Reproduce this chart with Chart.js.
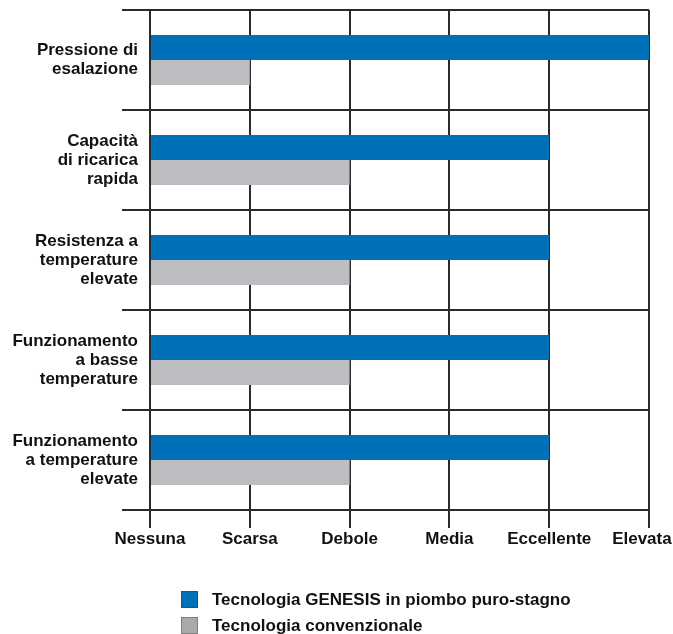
<!DOCTYPE html>
<html>
<head>
<meta charset="utf-8">
<script src="https://cdn.jsdelivr.net/npm/chart.js@4"></script>
<style>
  html, body { margin: 0; padding: 0; background: #fff; overflow: hidden; }
  #wrap { position: relative; width: 673px; height: 634px; }
  .legend-item {
    position: absolute; left: 181px; height: 17px;
    font: bold 17px "Liberation Sans", Arial, sans-serif; color: #111;
    line-height: 17px; white-space: nowrap;
  }
  .legend-item span {
    display: inline-block; width: 15px; height: 15px; vertical-align: top;
    margin-right: 14px;
  }
</style>
</head>
<body>
<div id="wrap">
  <canvas id="myChart" width="673" height="634"></canvas>
  <div class="legend-item" style="top:591px"><span style="background:#0070b9;border:1px solid #005e9c"></span>Tecnologia GENESIS in piombo puro-stagno</div>
  <div class="legend-item" style="top:617px"><span style="background:#a9aaad;border:1px solid #7d7e80"></span>Tecnologia convenzionale</div>
</div>
<script>
const categories = [
    ['Pressione di', 'esalazione'],
    ['Capacità', 'di ricarica', 'rapida'],
    ['Resistenza a', 'temperature', 'elevate'],
    ['Funzionamento', 'a basse', 'temperature'],
    ['Funzionamento', 'a temperature', 'elevate']
]
const levels = ['Nessuna', 'Scarsa', 'Debole', 'Media', 'Eccellente', 'Elevata']
const genesis = [5, 4, 4, 4, 4]
const conventional = [1, 2, 2, 2, 2]

const font = { family: '"Liberation Sans", Arial, sans-serif', size: 17, weight: 'bold' }
const lineColor = '#2b2b2b'

let myChart = document.getElementById('myChart').getContext('2d')
let ratingChart = new Chart(myChart, {
    type: 'bar',
    data: {
        labels: categories,
        datasets: [{
            label: 'Tecnologia GENESIS in piombo puro-stagno',
            data: genesis,
            backgroundColor: '#0070b9',
            categoryPercentage: 0.5,
            barPercentage: 1.0
        }, {
            label: 'Tecnologia convenzionale',
            data: conventional,
            backgroundColor: '#bcbdc0',
            categoryPercentage: 0.5,
            barPercentage: 1.0
        }]
    },
    options: {
        indexAxis: 'y',
        responsive: false,
        animation: false,
        layout: { padding: { top: 10, right: 24, bottom: 84, left: 0 } },
        plugins: {
            legend: { display: false },
            tooltip: { enabled: false }
        },
        scales: {
            x: {
                min: 0,
                max: 5,
                z: 1,
                afterFit: (scale) => {
                    // keep the plot wide, the last label is nudged left instead
                    scale.height = 40
                    scale.paddingLeft = 0
                    scale.paddingRight = 0
                },
                grid: { color: lineColor, lineWidth: 2, tickLength: 18 },
                border: { color: lineColor, width: 2 },
                ticks: {
                    stepSize: 1,
                    padding: 1,
                    color: '#111',
                    font: font,
                    maxRotation: 0,
                    callback: (v) => v === levels.length - 1 ? levels[v] + '\u00a0\u00a0\u00a0' : levels[v]
                }
            },
            y: {
                z: 1,
                afterFit: (scale) => {
                    scale.width = 150
                    scale.paddingTop = 0
                    scale.paddingBottom = 0
                },
                grid: { color: lineColor, lineWidth: 2, tickLength: 28, offset: true },
                border: { color: lineColor, width: 2 },
                ticks: {
                    padding: -16,
                    color: '#111',
                    font: { ...font, lineHeight: 1.12 }
                }
            }
        }
    }
})
</script>
</body>
</html>
